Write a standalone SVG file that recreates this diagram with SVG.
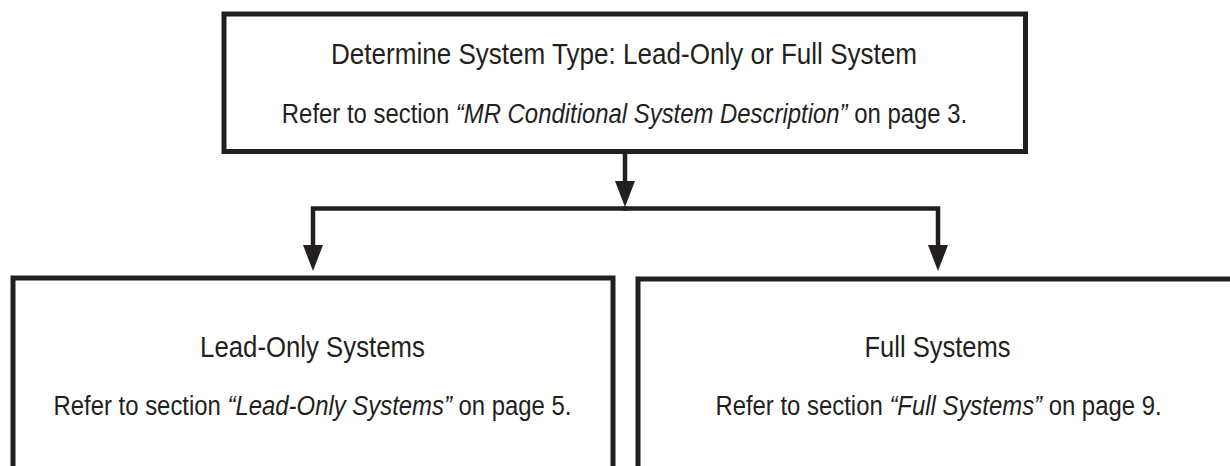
<svg xmlns="http://www.w3.org/2000/svg" width="1230" height="466" viewBox="0 0 1230 466">
  <style>
    .box { fill: #ffffff; stroke: #231f20; stroke-width: 5; }
    .t { font-family: "Liberation Sans", Arial, sans-serif; fill: #231f20; text-anchor: middle; }
    .h { font-size: 29px; }
    .s { font-size: 28px; }
    .i { font-style: italic; }
    .conn { fill: none; stroke: #231f20; stroke-width: 4.5; stroke-linejoin: miter; }
  </style>
  <defs>
    <marker id="arrow" markerUnits="userSpaceOnUse" viewBox="0 0 26 20" refX="0" refY="10" markerWidth="26" markerHeight="20" orient="auto">
      <path d="M0,0 L26,10 L0,20 Z" fill="#231f20"/>
    </marker>
  </defs>
  <rect width="1230" height="466" fill="#ffffff"/>
  <g id="connectors">
    <path class="conn" d="M625,152 V181" marker-end="url(#arrow)"/>
    <path class="conn" d="M627,208.5 H313 V245" marker-end="url(#arrow)"/>
    <path class="conn" d="M623,208.5 H938 V245" marker-end="url(#arrow)"/>
  </g>
  <g id="node-system-type">
    <rect class="box" x="224" y="14" width="801.5" height="137.5"/>
    <text class="t h" transform="translate(624,64) scale(0.899,1)">Determine System Type: Lead-Only or Full System</text>
    <text class="t s" transform="translate(624.5,123) scale(0.854,1)">Refer to section <tspan class="i">“MR Conditional System Description”</tspan> on page 3.</text>
  </g>
  <g id="node-lead-only">
    <rect class="box" x="13" y="278" width="600" height="220"/>
    <text class="t h" transform="translate(312.5,356.5) scale(0.889,1)">Lead-Only Systems</text>
    <text class="t s" transform="translate(312.5,415) scale(0.854,1)">Refer to section <tspan class="i">“Lead-Only Systems”</tspan> on page 5.</text>
  </g>
  <g id="node-full">
    <rect class="box" x="638" y="279" width="600" height="220"/>
    <text class="t h" transform="translate(937.5,356.5) scale(0.88,1)">Full Systems</text>
    <text class="t s" transform="translate(938.5,415) scale(0.854,1)">Refer to section <tspan class="i">“Full Systems”</tspan> on page 9.</text>
  </g>
</svg>
